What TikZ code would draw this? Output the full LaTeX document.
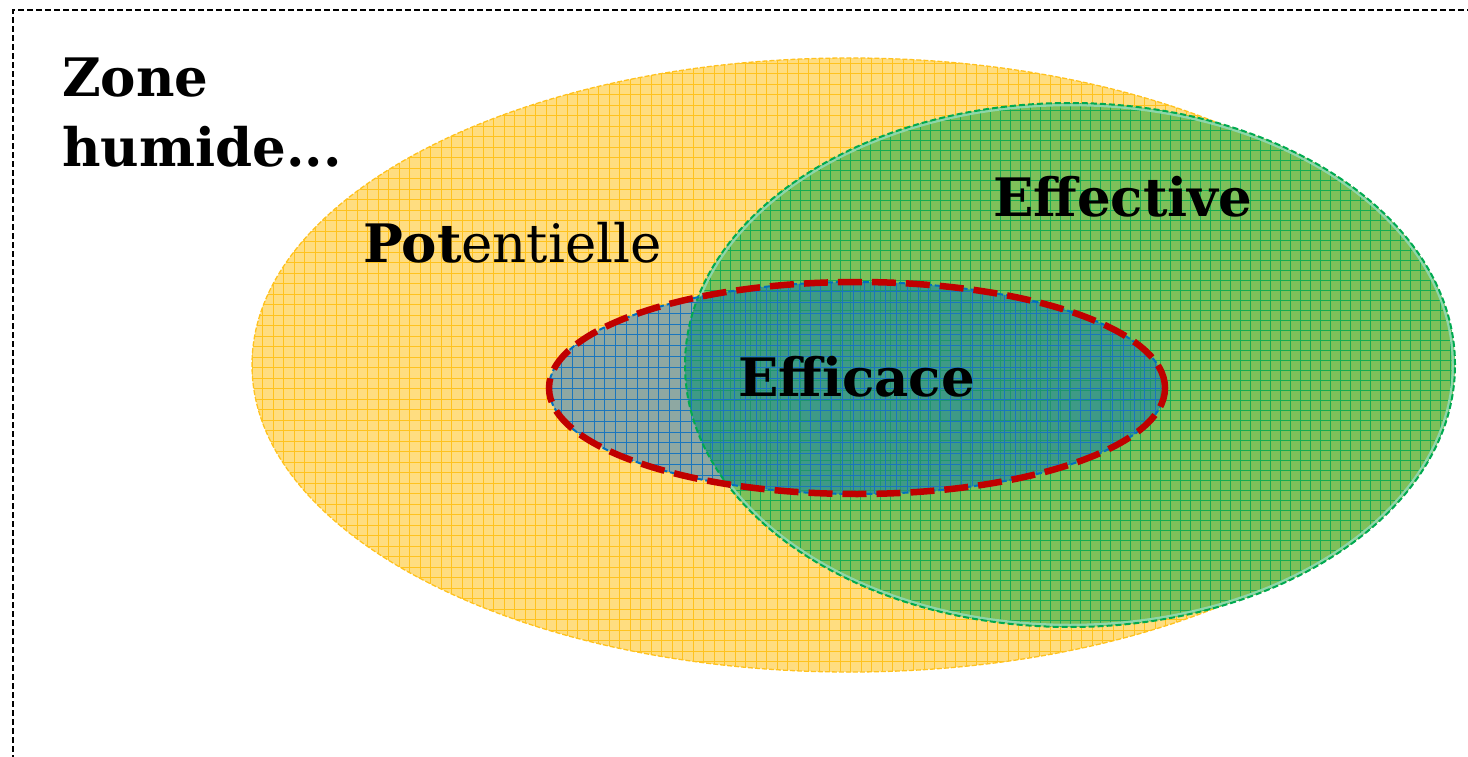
\documentclass[tikz,border=0pt]{standalone}
\usepackage{fontspec}
\setmainfont{DejaVu Serif}
\definecolor{yelbase}{RGB}{255,221,128}
\definecolor{yelgrid}{RGB}{255,194,30}
\definecolor{grnbase}{RGB}{126,192,90}
\definecolor{grngrid}{RGB}{20,172,82}
\definecolor{grnline}{RGB}{0,170,80}
\definecolor{mint}{RGB}{140,215,170}
\definecolor{effgrey}{RGB}{142,168,162}
\definecolor{effteal}{RGB}{62,154,134}
\definecolor{tealgrid}{RGB}{30,150,110}
\definecolor{effgrid}{RGB}{25,118,190}
\definecolor{redline}{RGB}{192,0,0}
\definecolor{blueline}{RGB}{0,112,192}
\tikzset{
  lbl/.style={anchor=base west, inner sep=0pt, font=\fontsize{53}{64}\selectfont, text=black},
}
\begin{document}
\begin{tikzpicture}[x=1pt,y=-1pt]
\useasboundingbox (0,0) rectangle (1468,757);
% frame
\coordinate (fb) at (13,770);
\coordinate (ftl) at (13,10);
\coordinate (ftr) at (1480,10);
\draw[line width=1.4pt, dash pattern=on 6pt off 3pt] (fb) -- (ftl) -- (ftr);
% yellow ellipse
\coordinate (yc) at (850,365);
\begin{scope}
  \clip (yc) ellipse [x radius=598pt, y radius=307pt];
  \fill[yelbase] (240,50) rectangle (1460,680);
  \draw[yelgrid, line width=0.9pt, step=10.5pt] (240,50) grid (1460,680);
\end{scope}
\draw[yelgrid, line width=1.3pt, dash pattern=on 5pt off 2pt] (yc) ellipse [x radius=598pt, y radius=307pt];
% green ellipse
\coordinate (gc) at (1070,365);
\begin{scope}
  \clip (gc) ellipse [x radius=385pt, y radius=262pt];
  \fill[grnbase] (680,100) rectangle (1460,630);
  \draw[grngrid, line width=0.9pt, step=10pt] (680,100) grid (1460,630);
\end{scope}
\draw[mint, line width=2.5pt] (gc) ellipse [x radius=383pt, y radius=260pt];
% efficace ellipse
\coordinate (ec) at (857,388);
\begin{scope}
  \clip (ec) ellipse [x radius=308pt, y radius=106pt];
  \fill[effgrey] (540,275) rectangle (1170,500);
  \begin{scope}
    \clip (gc) ellipse [x radius=385pt, y radius=262pt];
    \fill[effteal] (540,275) rectangle (1170,500);
    \draw[tealgrid, line width=0.8pt, step=10pt] (680,100) grid (1460,630);
  \end{scope}
  \draw[effgrid, line width=0.8pt, step=10.8pt] (540,275) grid (1170,500);
\end{scope}
\draw[grnline, line width=2pt, dash pattern=on 6pt off 3pt] (gc) ellipse [x radius=385pt, y radius=262pt];
\draw[blueline, line width=2pt, dash pattern=on 6pt off 3pt] (ec) ellipse [x radius=308pt, y radius=106pt];
\draw[redline, line width=6.5pt, dash pattern=on 24pt off 10pt] (ec) ellipse [x radius=308pt, y radius=106pt];
% labels
\node[lbl] (zone) at (62,97) {\textbf{Zone}};
\node[lbl] (humide) at (62,167) {\textbf{humide...}};
\node[lbl] (pot) at (363,262) {\textbf{Pot}entielle};
\node[lbl] (eff) at (993,216) {\textbf{Effective}};
\node[lbl] (effi) at (738,396) {\textbf{Efficace}};
\end{tikzpicture}
\end{document}
